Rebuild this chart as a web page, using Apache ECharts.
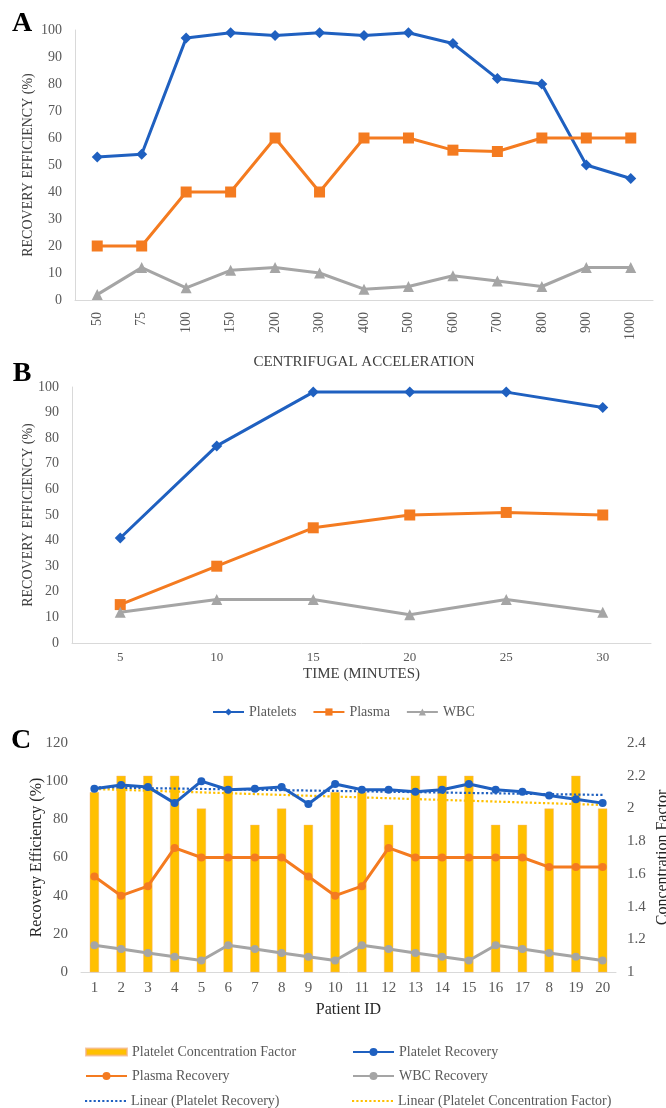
<!DOCTYPE html>
<html>
<head>
<meta charset="utf-8">
<script src="https://cdn.jsdelivr.net/npm/echarts@6/dist/echarts.min.js"></script>
<style>
html,body{margin:0;padding:0;background:#fff;}
#chart{width:666px;height:1108px;}
</style>
</head>
<body>
<div id="chart"></div>
<script>
// ---- Panel A data ----
const accelCategories = ['50','75','100','150','200','300','400','500','600','700','800','900','1000'];
const aPlatelets = [53,54,97,99,98,99,98,99,95,82,80,50,45];
const aPlasma = [20,20,40,40,60,40,60,60,55.5,55,60,60,60];
const aWBC = [2,12,4.5,11,12,10,4,5,9,7,5,12,12];

// ---- Panel B data ----
const timeCategories = ['5','10','15','20','25','30'];
const bPlatelets = [41,77,98,98,98,92];
const bPlasma = [15,30,45,50,51,50];
const bWBC = [12,17,17,11,17,12];

// ---- Panel C data ----
const patientIds = [1,2,3,4,5,6,7,8,9,10,11,12,13,14,15,16,17,18,19,20];
const patientTickLabels = ['1','2','3','4','5','6','7','8','9','10','11','12','13','14','15','16','17','8','19','20'];
const cConcFactor = [2.1,2.2,2.2,2.2,2.0,2.2,1.9,2.0,1.9,2.1,2.1,1.9,2.2,2.2,2.2,1.9,1.9,2.0,2.2,2.0];
const cPlateletRec = [96,98,97,88.5,100,95.5,96,97,88,98.5,95.5,95.5,94.5,95.5,98.5,95.5,94.5,92.5,90.5,88.5];
const cPlasmaRec = [50,40,45,65,60,60,60,60,50,40,45,65,60,60,60,60,60,55,55,55];
const cWBCRec = [14,12,10,8,6,14,12,10,8,6,14,12,10,8,6,14,12,10,8,6];

// least-squares linear trend (like a spreadsheet "Linear" trendline)
function linearTrend(xs, ys){
  const n = ys.length; let sx=0, sy=0, sxx=0, sxy=0;
  for(let i=0;i<n;i++){ sx+=xs[i]; sy+=ys[i]; sxx+=xs[i]*xs[i]; sxy+=xs[i]*ys[i]; }
  const b = (n*sxy - sx*sy)/(n*sxx - sx*sx);
  const a = (sy - b*sx)/n;
  return xs.map(x => +(a + b*x).toFixed(4));
}
const trendPlatelet = linearTrend(patientIds, cPlateletRec);
const trendConc = linearTrend(patientIds, cConcFactor);

const BLUE = '#1F60C0', ORANGE = '#F47B20', GRAY = '#A5A5A5', GOLD = '#FFC000';
const SERIF = 'Liberation Serif';
const LABEL = '#595959';
const AXISLINE = '#D9D9D9';
const DOTTED_ICON = 'path://M0 0h2v2h-2z M4 0h2v2h-2z M8 0h2v2h-2z M12 0h2v2h-2z M16 0h2v2h-2z M20 0h2v2h-2z M24 0h2v2h-2z M28 0h2v2h-2z M32 0h2v2h-2z M36 0h2v2h-2z';

const chart = echarts.init(document.getElementById('chart'), null, {renderer:'canvas'});

function lineSeries(name, data, color, symbol, size, xi, yi, extra){
  return Object.assign({
    name, type:'line', data, xAxisIndex:xi, yAxisIndex:yi,
    symbol, symbolSize:size, showAllSymbol:true,
    lineStyle:{color, width:3}, itemStyle:{color},
    emphasis:{disabled:true}, animation:false
  }, extra||{});
}

function legendItem(item, left, top, extra){
  return Object.assign({
    data:[item], left, top, orient:'horizontal',
    itemWidth:41, itemHeight:10,
    textStyle:{fontFamily:SERIF, fontSize:14, color:LABEL},
    selectedMode:false
  }, extra||{});
}

const option = {
  backgroundColor:'#fff',
  animation:false,
  textStyle:{fontFamily:SERIF},
  graphic:[
    {type:'text', x:22, y:24, style:{text:'A', font:'bold 28px "Liberation Serif"', fill:'#000', align:'center', verticalAlign:'middle'}},
    {type:'text', x:22, y:374, style:{text:'B', font:'bold 28px "Liberation Serif"', fill:'#000', align:'center', verticalAlign:'middle'}},
    {type:'text', x:21, y:741, style:{text:'C', font:'bold 28px "Liberation Serif"', fill:'#000', align:'center', verticalAlign:'middle'}}
  ],
  grid:[
    {left:75, right:13, top:30, height:270, outerBoundsMode:'none', containLabel:false},
    {left:72, right:15, top:387, height:256, outerBoundsMode:'none', containLabel:false},
    {left:81, right:50, top:743, height:229, outerBoundsMode:'none', containLabel:false}
  ],
  legend:[
    {data:['Platelets','Plasma','WBC'], left:207, top:700, itemWidth:31, itemHeight:9, itemGap:16,
     textStyle:{fontFamily:SERIF, fontSize:14, color:LABEL}, selectedMode:false},
    legendItem({name:'Platelet Concentration Factor', icon:'rect'}, 80, 1040, {itemHeight:7}),
    legendItem('Platelet Recovery', 347, 1040),
    legendItem('Plasma Recovery', 80, 1064),
    legendItem('WBC Recovery', 347, 1064),
    legendItem({name:'Linear (Platelet Recovery)', icon:DOTTED_ICON}, 80, 1089, {itemHeight:2.5}),
    legendItem({name:'Linear (Platelet Concentration Factor)', icon:DOTTED_ICON}, 347, 1089, {itemHeight:2.5})
  ],
  xAxis:[
    {type:'category', gridIndex:0, data:accelCategories, boundaryGap:true,
     axisLine:{lineStyle:{color:AXISLINE, width:1}}, axisTick:{show:false},
     axisLabel:{rotate:90, interval:0, margin:12, fontSize:14, color:LABEL, fontFamily:SERIF},
     name:'CENTRIFUGAL ACCELERATION', nameLocation:'middle', nameGap:55, nameMoveOverlap:false,
     nameTextStyle:{fontSize:15, color:'#404040', fontFamily:SERIF}},
    {type:'category', gridIndex:1, data:timeCategories, boundaryGap:true,
     axisLine:{lineStyle:{color:AXISLINE, width:1}}, axisTick:{show:false},
     axisLabel:{interval:0, margin:8, fontSize:13, color:LABEL, fontFamily:SERIF},
     name:'TIME (MINUTES)', nameLocation:'middle', nameGap:24, nameMoveOverlap:false,
     nameTextStyle:{fontSize:15, color:'#404040', fontFamily:SERIF}},
    {type:'category', gridIndex:2, data:patientIds.map(String), boundaryGap:true,
     axisLine:{lineStyle:{color:AXISLINE, width:1}}, axisTick:{show:false},
     axisLabel:{interval:0, margin:9, fontSize:15, color:LABEL, fontFamily:SERIF,
       formatter:(v, i) => patientTickLabels[i]},
     name:'Patient ID', nameLocation:'middle', nameGap:30, nameMoveOverlap:false,
     nameTextStyle:{fontSize:16, color:'#262626', fontFamily:SERIF}}
  ],
  yAxis:[
    {type:'value', gridIndex:0, min:0, max:100, interval:10,
     axisLine:{show:true, lineStyle:{color:AXISLINE, width:1}}, axisTick:{show:false}, splitLine:{show:false},
     axisLabel:{fontSize:14, color:LABEL, margin:13, fontFamily:SERIF},
     name:'RECOVERY EFFICIENCY (%)', nameLocation:'middle', nameGap:40, nameRotate:90, nameMoveOverlap:false,
     nameTextStyle:{fontSize:14, color:'#404040', fontFamily:SERIF}},
    {type:'value', gridIndex:1, min:0, max:100, interval:10,
     axisLine:{show:true, lineStyle:{color:AXISLINE, width:1}}, axisTick:{show:false}, splitLine:{show:false},
     axisLabel:{fontSize:14, color:LABEL, margin:13, fontFamily:SERIF},
     name:'RECOVERY EFFICIENCY (%)', nameLocation:'middle', nameGap:37, nameRotate:90, nameMoveOverlap:false,
     nameTextStyle:{fontSize:14, color:'#404040', fontFamily:SERIF}},
    {type:'value', gridIndex:2, min:0, max:120, interval:20,
     axisLine:{show:false}, axisTick:{show:false}, splitLine:{show:false},
     axisLabel:{fontSize:15, color:LABEL, margin:13, fontFamily:SERIF},
     name:'Recovery Efficiency (%)', nameLocation:'middle', nameGap:36, nameRotate:90, nameMoveOverlap:false,
     nameTextStyle:{fontSize:16, color:'#262626', fontFamily:SERIF}},
    {type:'value', gridIndex:2, position:'right', min:1, max:2.4, interval:0.2,
     axisLine:{show:false}, axisTick:{show:false}, splitLine:{show:false},
     axisLabel:{fontSize:15, color:LABEL, margin:11, fontFamily:SERIF,
       formatter:v => (Math.round(v*10)/10).toString()},
     name:'Concentration Factor', nameLocation:'middle', nameGap:39, nameRotate:90, nameMoveOverlap:false,
     nameTextStyle:{fontSize:16, color:'#262626', fontFamily:SERIF}}
  ],
  series:[
    lineSeries('Platelets', aPlatelets, BLUE, 'diamond', 11, 0, 0),
    lineSeries('Plasma', aPlasma, ORANGE, 'rect', 11, 0, 0),
    lineSeries('WBC', aWBC, GRAY, 'triangle', 11, 0, 0),
    lineSeries('Platelets', bPlatelets, BLUE, 'diamond', 11, 1, 1),
    lineSeries('Plasma', bPlasma, ORANGE, 'rect', 11, 1, 1),
    lineSeries('WBC', bWBC, GRAY, 'triangle', 11, 1, 1),
    {name:'Platelet Concentration Factor', type:'bar', data:cConcFactor, xAxisIndex:2, yAxisIndex:3,
     barWidth:'35%', clip:true, itemStyle:{color:GOLD, borderColor:'rgba(244,177,131,0.7)', borderWidth:0.6},
     emphasis:{disabled:true}, animation:false, z:1},
    lineSeries('Linear (Platelet Recovery)', trendPlatelet, BLUE, 'none', 0, 2, 2,
      {lineStyle:{color:BLUE, width:2.2, type:'dotted'}, z:3}),
    lineSeries('Linear (Platelet Concentration Factor)', trendConc, GOLD, 'none', 0, 2, 3,
      {lineStyle:{color:GOLD, width:2.2, type:'dotted'}, z:3}),
    lineSeries('Platelet Recovery', cPlateletRec, BLUE, 'circle', 8, 2, 2, {z:4}),
    lineSeries('Plasma Recovery', cPlasmaRec, ORANGE, 'circle', 8, 2, 2, {z:4}),
    lineSeries('WBC Recovery', cWBCRec, GRAY, 'circle', 8, 2, 2, {z:4})
  ]
};
chart.setOption(option);
</script>
</body>
</html>
